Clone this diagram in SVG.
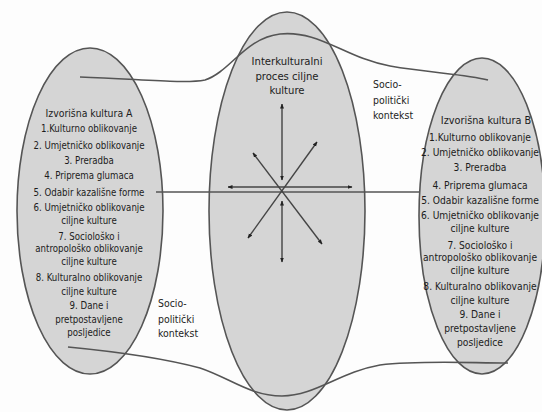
<svg xmlns="http://www.w3.org/2000/svg" width="542" height="412" viewBox="0 0 542 412">
<defs>
<style>
.bg{fill:#fdfdfd}
.ell{fill:#d5d5d5;stroke:#555;stroke-width:1.6}
.ln{fill:none;stroke:#555;stroke-width:1.6}
.ar{fill:none;stroke:#444;stroke-width:1.4;marker-start:url(#ah);marker-end:url(#ah)}
text{font-family:"Liberation Sans Narrow","DejaVu Sans Condensed","Liberation Sans",sans-serif;font-size:11px;fill:#1c1c1c}
.c{text-anchor:middle}
.h{font-size:11.2px}
.la{font-size:9.6px}
.ha{font-size:10.4px}
.lb{font-size:10.2px}
.hb{font-size:10.8px}
.s{font-size:10.4px}
</style>
<marker id="ah" viewBox="0 0 10 10" refX="9" refY="5" markerWidth="5" markerHeight="5" orient="auto-start-reverse" markerUnits="userSpaceOnUse">
<path d="M0,1 L10,5 L0,9 z" fill="#222"/>
</marker>
</defs>
<rect class="bg" x="0" y="0" width="542" height="412"/>
<g id="node-center">
<ellipse class="ell" cx="287" cy="211" rx="78" ry="199"/>
<text class="c h" x="287" y="65">Interkulturalni</text>
<text class="c h" x="287" y="80">proces ciljne</text>
<text class="c h" x="287" y="94">kulture</text>
</g>
<g id="node-a">
<ellipse class="ell" cx="90" cy="211" rx="73" ry="163"/>
<text class="c ha" x="89" y="117">Izvorišna kultura A</text>
<g class="la">
<text class="c la" x="89" y="132">1.Kulturno oblikovanje</text>
<text class="c la" x="89" y="149">2. Umjetničko oblikovanje</text>
<text class="c la" x="89" y="164">3. Preradba</text>
<text class="c la" x="89" y="179">4. Priprema glumaca</text>
<text class="c la" x="89" y="196">5. Odabir kazališne forme</text>
<text class="c la" x="89" y="211">6. Umjetničko oblikovanje</text>
<text class="c la" x="89" y="224">ciljne kulture</text>
<text class="c la" x="89" y="240">7. Sociološko i</text>
<text class="c la" x="89" y="252">antropološko oblikovanje</text>
<text class="c la" x="89" y="265">ciljne kulture</text>
<text class="c la" x="89" y="281">8. Kulturalno oblikovanje</text>
<text class="c la" x="89" y="295">ciljne kulture</text>
<text class="c la" x="89" y="309">9. Dane i</text>
<text class="c la" x="89" y="323">pretpostavljene</text>
<text class="c la" x="89" y="336">posljedice</text>
</g>
</g>
<g id="node-b">
<ellipse class="ell" cx="482" cy="216" rx="63" ry="158"/>
<text class="c hb" x="486" y="124">Izvorišna kultura B</text>
<text class="c lb" x="480" y="141">1.Kulturno oblikovanje</text>
<text class="c lb" x="480" y="156">2. Umjetničko oblikovanje</text>
<text class="c lb" x="480" y="171">3. Preradba</text>
<text class="c lb" x="480" y="189">4. Priprema glumaca</text>
<text class="c lb" x="480" y="204">5. Odabir kazališne forme</text>
<text class="c lb" x="480" y="219">6. Umjetničko oblikovanje</text>
<text class="c lb" x="480" y="232">ciljne kulture</text>
<text class="c lb" x="480" y="249">7. Sociološko i</text>
<text class="c lb" x="480" y="261">antropološko oblikovanje</text>
<text class="c lb" x="480" y="274">ciljne kulture</text>
<text class="c lb" x="480" y="290">8. Kulturalno oblikovanje</text>
<text class="c lb" x="480" y="304">ciljne kulture</text>
<text class="c lb" x="480" y="318">9. Dane i</text>
<text class="c lb" x="480" y="332">pretpostavljene</text>
<text class="c lb" x="480" y="346">posljedice</text>
</g>
<g id="label-socio-top">
<text class="s" x="373" y="88">Socio-</text>
<text class="s" x="373" y="104">politički</text>
<text class="s" x="373" y="119">kontekst</text>
</g>
<g id="label-socio-bottom">
<text class="s" x="158" y="307">Socio-</text>
<text class="s" x="158" y="323">politički</text>
<text class="s" x="158" y="337">kontekst</text>
</g>
<g id="connectors">
<path class="ln" d="M80,77 C140,79 185,84 205,80 C230,72 245,38 280,34 C320,30 345,58 390,66 C430,73 465,74 488,80"/>
<path class="ln" d="M68,347 C120,352 170,360 200,368 C230,378 250,396 282,396 C315,396 340,372 380,365 C420,360 470,363 508,363"/>
<line class="ln" x1="156" y1="192" x2="420" y2="192"/>
<line class="ar" x1="282" y1="180" x2="282" y2="104"/>
<line class="ar" x1="282" y1="201" x2="282" y2="262"/>
<line class="ar" x1="228" y1="187" x2="352" y2="187"/>
<line class="ar" x1="253" y1="153" x2="322" y2="244"/>
<line class="ar" x1="317" y1="142" x2="248" y2="238"/>
</g>
</svg>
